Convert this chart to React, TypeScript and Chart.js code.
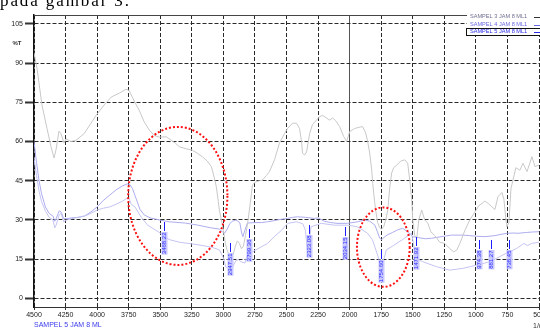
import React, { useEffect, useRef } from "react";
import { Chart, registerables } from "chart.js";

Chart.register(...registerables);

// ---------- data ----------
const xTicks = [4500, 4250, 4000, 3750, 3500, 3250, 3000, 2750, 2500, 2250, 2000, 1750, 1500, 1250, 1000, 750, 500];
const yTicks = [0, 15, 30, 45, 60, 75, 90, 105];

const seriesNames = ["SAMPEL 3 JAM 8 ML1", "SAMPEL 4 JAM 8 ML1", "SAMPEL 5 JAM 8 ML1"];

const s3Wn = [4500, 4476, 4437, 4397, 4365, 4341, 4325, 4302, 4286, 4262, 4246, 4206, 4167, 4103, 4008, 3944, 3889, 3825, 3770, 3746, 3722, 3690, 3667, 3627, 3587, 3548, 3508, 3452, 3413, 3381, 3349, 3294, 3246, 3206, 3167, 3127, 3095, 3071, 3056, 3040, 3032, 3016, 3000, 2984, 2968, 2952, 2937, 2921, 2905, 2889, 2873, 2857, 2841, 2825, 2810, 2794, 2778, 2770, 2746, 2714, 2690, 2659, 2635, 2595, 2556, 2516, 2492, 2452, 2421, 2397, 2381, 2373, 2357, 2341, 2317, 2294, 2262, 2238, 2214, 2183, 2159, 2135, 2111, 2079, 2048, 2024, 2000, 1960, 1920, 1897, 1873, 1857, 1841, 1825, 1817, 1802, 1794, 1778, 1762, 1746, 1730, 1714, 1698, 1683, 1667, 1651, 1627, 1595, 1563, 1540, 1524, 1508, 1500, 1484, 1468, 1452, 1429, 1405, 1381, 1357, 1325, 1286, 1246, 1206, 1175, 1151, 1127, 1087, 1048, 1008, 976, 960, 929, 905, 873, 849, 825, 794, 778, 762, 754, 738, 722, 706, 683, 651, 627, 595, 556, 532, 500];
const s3T = [94, 88, 74, 65, 58, 53.7, 57, 64, 63, 59.4, 61, 60, 60.5, 63, 70, 74, 77, 78.5, 80, 79.5, 77, 74, 72, 67.5, 64.4, 62.3, 61.7, 61.8, 60.5, 59.4, 58, 57.2, 56.7, 55.5, 54.2, 52.5, 50.4, 46, 42.7, 37, 33.8, 30, 26, 21, 18, 16.5, 16, 17, 20, 22, 21, 19, 20, 24, 28, 33.8, 40, 43.4, 44.5, 45, 45.3, 47, 48.5, 53, 59.4, 63, 65, 67, 67, 65, 60, 55.6, 54.8, 56, 63, 66.5, 68.2, 69.5, 70, 69, 68.2, 69, 68, 65.7, 62, 60, 63.8, 65, 65.5, 65.7, 63.3, 60, 55.6, 49, 44, 37, 33.8, 29, 27, 26.5, 27.5, 30, 33.8, 42, 48, 50, 51, 52.5, 53, 51.7, 45.3, 37.6, 30, 24, 23, 30, 33.8, 30, 28.8, 25.5, 24, 21.5, 21, 19, 17.8, 18.5, 21, 26, 30, 33, 35.5, 36, 37.2, 36.4, 35, 34, 38.9, 40.5, 38, 30, 27.4, 29, 42, 45.3, 50, 49, 51.7, 48.5, 54.2, 50.4, 51];

const s4Wn = [4500, 4480, 4460, 4440, 4410, 4380, 4350, 4335, 4325, 4300, 4285, 4265, 4240, 4200, 4150, 4100, 4050, 4000, 3950, 3900, 3850, 3800, 3760, 3745, 3730, 3700, 3650, 3600, 3500, 3430, 3350, 3200, 3087, 3030, 3000, 2980, 2940, 2900, 2880, 2860, 2830, 2815, 2770, 2700, 2650, 2600, 2540, 2490, 2420, 2370, 2350, 2335, 2320, 2305, 2225, 2120, 2015, 1940, 1860, 1820, 1800, 1762, 1745, 1725, 1710, 1660, 1580, 1510, 1495, 1471, 1420, 1310, 1206, 1100, 995, 890, 786, 677, 620, 590, 560, 500];
const s4T = [53.7, 47, 41, 37, 33.5, 31, 30, 27, 28, 32, 32.5, 29.3, 30, 30.5, 31, 31.5, 32.5, 33.8, 34.5, 35, 36, 37.2, 38.4, 38, 36, 35, 31, 28, 25, 22.5, 21.5, 20.5, 19.5, 18.5, 15.5, 12, 10.8, 14.5, 14.8, 14, 13.5, 16, 17.8, 19.7, 21, 23.5, 26, 28.7, 29.3, 28.5, 26, 18.5, 22, 27.4, 28.7, 28, 28, 27.4, 25, 22.5, 19.7, 14, 13.8, 15.5, 18.5, 20, 22.5, 25, 21, 15.3, 14, 12.1, 10.8, 11.5, 12.7, 14, 16.6, 19.1, 21, 20.2, 21, 21.5];

const s5Wn = [4500, 4480, 4460, 4440, 4410, 4380, 4350, 4335, 4325, 4300, 4285, 4265, 4240, 4200, 4150, 4100, 4050, 4000, 3950, 3900, 3850, 3800, 3760, 3740, 3720, 3690, 3660, 3627, 3580, 3508, 3430, 3300, 3200, 3100, 3032, 3010, 2990, 2970, 2950, 2930, 2900, 2870, 2855, 2845, 2830, 2810, 2750, 2700, 2650, 2600, 2550, 2492, 2450, 2413, 2350, 2280, 2250, 2200, 2150, 2100, 2016, 1937, 1880, 1840, 1800, 1780, 1762, 1745, 1725, 1700, 1660, 1620, 1580, 1550, 1520, 1500, 1450, 1400, 1350, 1300, 1250, 1193, 1100, 1050, 1000, 929, 850, 800, 750, 700, 667, 600, 550, 500];
const s5T = [60, 52, 45, 40, 35, 32.5, 31.5, 29.5, 30.5, 33.5, 33, 30.5, 30.5, 30.8, 31, 31.5, 33, 35, 37.5, 39.5, 41.5, 43, 43.8, 43.5, 42, 38, 34, 31.9, 30.8, 30, 29.3, 28.8, 28, 27, 26.5, 25.5, 25, 26.5, 28.5, 29.5, 30, 29, 25, 23.6, 26, 28.8, 29, 29, 29.3, 29.7, 30.2, 30.6, 31, 31.2, 31, 30.6, 30.8, 29.5, 29, 28.7, 28.7, 29.3, 30, 29.5, 28, 25.5, 23, 22.5, 23.5, 24.3, 25.2, 26.2, 26.8, 25.8, 24.5, 23.6, 23.2, 22.8, 23, 23.4, 23.8, 24.2, 24.2, 24, 23.8, 23.6, 24, 24.5, 24.9, 25, 24.9, 25.2, 25.4, 25.5];

// peak labels of SAMPEL 5 (text = wavenumber) and %T where the marker starts
const peakLabels = ["3468.22", "2947.51", "2799.36", "2323.08", "2034.15", "1754.60", "1471.92", "974.38", "881.27", "738.45"];
const peakT = [29.3, 21.2, 26.5, 28, 27.4, 18.5, 23.6, 22.3, 22.3, 22.3];

// red dotted highlight ellipses: centre (wavenumber, %T) and radii (cm-1, %T)
const ellipseWn = [3361, 1733];
const ellipseT = [39.2, 19.6];
const ellipseRWn = [393, 209];
const ellipseRT = [26.4, 15.2];

const colors = ["#c8c8c8", "#c4c4f3", "#acacee"];
const legendTextColors = ["#707090", "#6a6ae0", "#2a2ae6"];

const FONT = "'Liberation Sans', Arial, sans-serif";

const zip = (a: number[], b: number[]) => a.map((v, i) => ({ x: v, y: b[i] }));

const overlay = {
  id: "overlay",
  afterDatasetsDraw(chart: any) {
    const { ctx, scales } = chart;
    const x = scales.x;
    const y = scales.y;
    ctx.save();
    // peak labels
    peakLabels.forEach((lab, i) => {
      const px = Math.round(x.getPixelForValue(Number(lab))) + 0.5;
      const py = Math.round(y.getPixelForValue(peakT[i]));
      ctx.strokeStyle = "#1c1cff";
      ctx.lineWidth = 1;
      ctx.setLineDash([]);
      ctx.beginPath();
      ctx.moveTo(px, py);
      ctx.lineTo(px, py + 9);
      ctx.stroke();
      ctx.font = `6px ${FONT}`;
      const w = ctx.measureText(lab).width;
      ctx.save();
      ctx.translate(px, py + 10 + w + 1);
      ctx.rotate(-Math.PI / 2);
      ctx.fillStyle = "#c9c9ff";
      ctx.fillRect(0, -3, w + 1, 6);
      ctx.fillStyle = "#2a2aff";
      ctx.textBaseline = "middle";
      ctx.textAlign = "left";
      ctx.fillText(lab, 0.5, 0.3);
      ctx.restore();
    });
    // ellipses
    ctx.strokeStyle = "#ff1010";
    ctx.lineWidth = 2;
    ctx.setLineDash([2, 2]);
    ellipseWn.forEach((wn, i) => {
      const cx = x.getPixelForValue(wn);
      const cy = y.getPixelForValue(ellipseT[i]);
      const rx = Math.abs(x.getPixelForValue(wn + ellipseRWn[i]) - cx);
      const ry = Math.abs(y.getPixelForValue(ellipseT[i] + ellipseRT[i]) - cy);
      ctx.beginPath();
      ctx.ellipse(cx, cy, rx, ry, 0, 0, Math.PI * 2);
      ctx.stroke();
    });
    ctx.restore();
  },
  afterDraw(chart: any) {
    const { ctx, chartArea, scales } = chart;
    const y = scales.y;
    ctx.save();
    ctx.setLineDash([]);
    // legend box (white, on top of grid)
    const lx = 467;
    ctx.fillStyle = "#ffffff";
    ctx.fillRect(lx, 12, 540 - lx, 23);
    // top border up to legend
    ctx.strokeStyle = "#444";
    ctx.lineWidth = 1;
    ctx.beginPath();
    ctx.moveTo(chartArea.left, chartArea.top + 0.5);
    ctx.lineTo(lx, chartArea.top + 0.5);
    ctx.stroke();
    ctx.font = `5.6px ${FONT}`;
    ctx.textBaseline = "middle";
    ctx.textAlign = "left";
    const rows = [16.5, 24.5, 31.5];
    seriesNames.forEach((n, i) => {
      ctx.fillStyle = legendTextColors[i];
      ctx.fillText(n, 470, rows[i]);
      ctx.strokeStyle = i === 0 ? "#333" : legendTextColors[i];
      ctx.beginPath();
      ctx.moveTo(534, Math.round(rows[i]) + 0.5);
      ctx.lineTo(541, Math.round(rows[i]) + 0.5);
      ctx.stroke();
    });
    ctx.strokeStyle = "#111";
    ctx.strokeRect(466.5, 28.5, 80, 7);
    // %T
    ctx.fillStyle = "#333";
    ctx.font = `bold 6px ${FONT}`;
    ctx.textAlign = "center";
    ctx.fillText("%T", 17, y.getPixelForValue(97.7));
    // bottom caption
    ctx.fillStyle = "#3a3aee";
    ctx.font = `7px ${FONT}`;
    ctx.textAlign = "left";
    ctx.fillText("SAMPEL 5 JAM 8 ML", 34, 325.5);
    ctx.fillStyle = "#333";
    ctx.fillText("1/cm", 533, 326);
    // document text at top (cut off)
    ctx.fillStyle = "#000";
    ctx.font = `17px 'Liberation Serif', serif`;
    ctx.textBaseline = "alphabetic";
    (ctx as any).letterSpacing = "1.9px";
    ctx.fillText("pada gambar 3.", 0, 6);
    ctx.restore();
  },
};

export default function App() {
  const ref = useRef<HTMLCanvasElement | null>(null);
  useEffect(() => {
    const canvas = ref.current;
    if (!canvas) return;
    const chart = new Chart(canvas, {
      type: "line",
      data: {
        datasets: [
          { label: seriesNames[0], data: zip(s3Wn, s3T), borderColor: colors[0] },
          { label: seriesNames[1], data: zip(s4Wn, s4T), borderColor: colors[1] },
          { label: seriesNames[2], data: zip(s5Wn, s5T), borderColor: colors[2] },
        ],
      },
      options: {
        animation: false,
        responsive: false,
        maintainAspectRatio: false,
        events: [],
        layout: { padding: { top: 15, left: 0, right: 1, bottom: 0 } },
        elements: {
          point: { radius: 0 },
          line: { borderWidth: 1, tension: 0, fill: false },
        },
        plugins: { legend: { display: false }, tooltip: { enabled: false } },
        scales: {
          x: {
            type: "linear",
            reverse: true,
            min: 500,
            max: 4500,
            afterBuildTicks: (s: any) => {
              s.ticks = xTicks.map((v) => ({ value: v }));
            },
            afterFit: (s: any) => {
              s.height = 22;
              s.paddingLeft = 0;
              s.paddingRight = 0;
            },
            ticks: {
              autoSkip: false,
              maxRotation: 0,
              minRotation: 0,
              padding: 1,
              color: "#222",
              font: { size: 7, family: FONT },
              callback: (v: any) => String(v),
            },
            grid: {
              color: (c: any) => (c.tick && c.tick.value === 2000 ? "#555" : "#2a2a2a"),
              lineWidth: 1,
              tickLength: 3,
              tickColor: "#333",
              tickWidth: 1,
            },
            border: {
              display: true,
              color: "#333",
              width: 1,
              dash: (c: any) => (c.tick && c.tick.value === 2000 ? [] : [4, 2]),
            },
          },
          y: {
            type: "linear",
            min: -3.3,
            max: 108.4,
            afterBuildTicks: (s: any) => {
              s.ticks = yTicks.map((v) => ({ value: v }));
            },
            afterFit: (s: any) => {
              s.width = 34;
              s.paddingTop = 0;
              s.paddingBottom = 0;
            },
            ticks: {
              padding: 2,
              color: "#222",
              font: { size: 7, family: FONT },
              callback: (v: any) => String(v),
            },
            grid: {
              color: "#2a2a2a",
              lineWidth: 1,
              tickLength: 9,
              tickColor: "#333",
              tickWidth: 2,
            },
            border: { display: true, color: "#111", width: 1.5, dash: [4, 2] },
          },
        },
      },
      plugins: [overlay],
    } as any);
    return () => chart.destroy();
  }, []);
  return (
    <div style={{ position: "absolute", left: 0, top: 0, width: 540, height: 329, background: "#fff" }}>
      <canvas ref={ref} width={540} height={329} style={{ display: "block", width: 540, height: 329 }} />
    </div>
  );
}
